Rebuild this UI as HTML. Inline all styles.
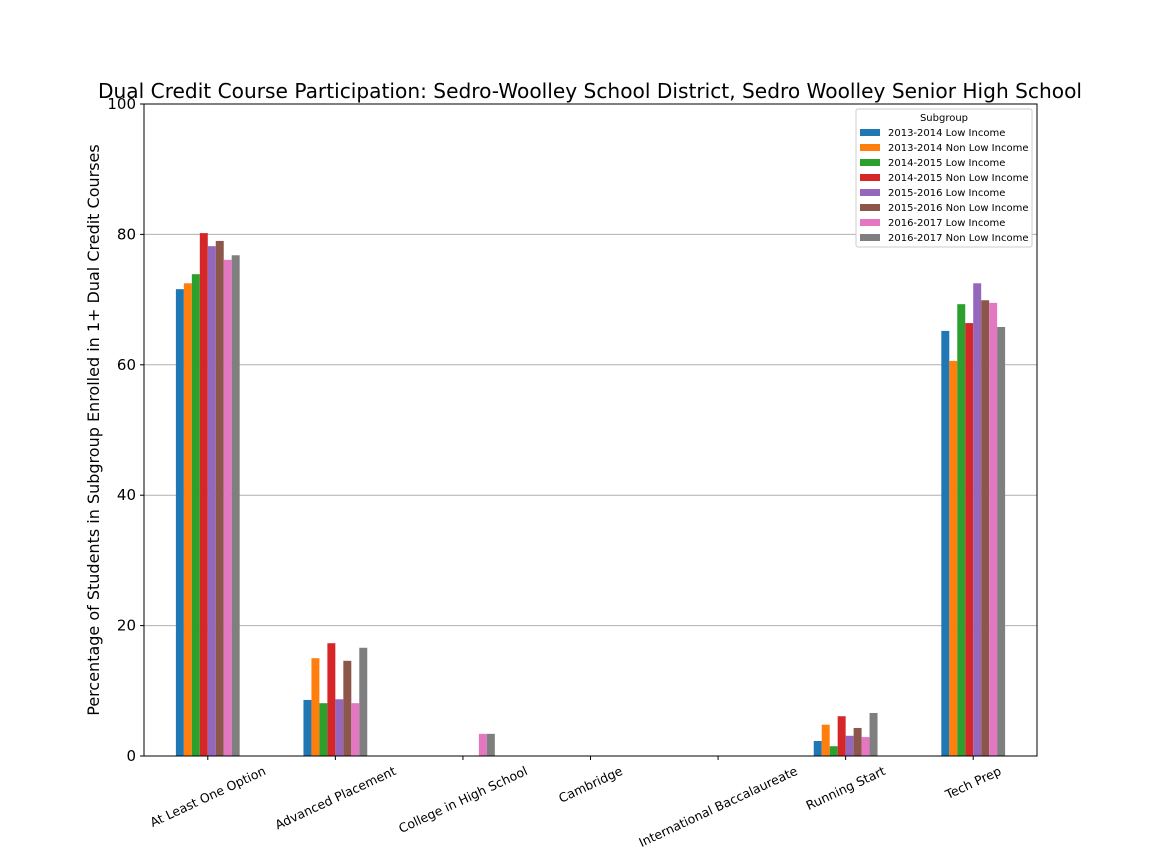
<!DOCTYPE html>
<html><head><meta charset="utf-8"><style>
html,body{margin:0;padding:0;background:#fff;width:1152px;height:864px;overflow:hidden}
svg{font-family:"DejaVu Sans","Liberation Sans",sans-serif}
</style></head><body>
<svg id="chart" width="1152" height="864" xmlns="http://www.w3.org/2000/svg"></svg>
<script>
const categories=["At Least One Option","Advanced Placement","College in High School","Cambridge","International Baccalaureate","Running Start","Tech Prep"];
const seriesNames=["2013-2014 Low Income","2013-2014 Non Low Income","2014-2015 Low Income","2014-2015 Non Low Income","2015-2016 Low Income","2015-2016 Non Low Income","2016-2017 Low Income","2016-2017 Non Low Income"];
const s1314Low=[71.6,8.6,0,0,0,2.3,65.2];
const s1314Non=[72.5,15.0,0,0,0,4.8,60.6];
const s1415Low=[73.9,8.1,0,0,0,1.5,69.3];
const s1415Non=[80.2,17.3,0,0,0,6.1,66.4];
const s1516Low=[78.2,8.7,0,0,0,3.1,72.5];
const s1516Non=[79.0,14.6,0,0,0,4.3,69.9];
const s1617Low=[76.1,8.1,3.4,0,0,2.9,69.5];
const s1617Non=[76.8,16.6,3.4,0,0,6.6,65.8];
const series=[s1314Low,s1314Non,s1415Low,s1415Non,s1516Low,s1516Non,s1617Low,s1617Non];
const yTicks=[0,20,40,60,80,100];
const colors=["#1f77b4","#ff7f0e","#2ca02c","#d62728","#9467bd","#8c564b","#e377c2","#7f7f7f"];

const NS="http://www.w3.org/2000/svg";
const svg=document.getElementById('chart');
const L=144,R=1037,T=104,B=756;
const step=(R-L)/categories.length;
const y=v=>B-(v/100)*(B-T);
const xc=i=>L+step*(i+0.5);
const bw=step*0.5/series.length;
function mk(tag,attrs,parent){const e=document.createElementNS(NS,tag);for(const k in attrs)e.setAttribute(k,attrs[k]);(parent||svg).appendChild(e);return e;}

let t=mk('text',{x:98,y:98,'font-size':20,textLength:984,lengthAdjust:'spacingAndGlyphs'});
t.textContent="Dual Credit Course Participation: Sedro-Woolley School District, Sedro Woolley Senior High School";



yTicks.forEach(v=>{
  if(v>0&&v<100){const g=mk('line',{x1:L,x2:R,y1:y(v),y2:y(v),stroke:'#b0b0b0','stroke-width':1});
  
  }
  mk('line',{x1:L-4,x2:L,y1:y(v),y2:y(v),stroke:'#000'});
  const tx=mk('text',{x:L-8,y:y(v)+5,'text-anchor':'end','font-size':15});
  tx.textContent=v;
  
  
});

series.forEach((s,si)=>{
  s.forEach((v,ci)=>{
    const x0=xc(ci)-step*0.25+si*bw;
    const r=mk('rect',{x:x0,y:y(v),width:bw,height:B-y(v),fill:colors[si]});
    
    
  });
});

const ang=25*Math.PI/180;
categories.forEach((c,i)=>{
  mk('line',{x1:xc(i),x2:xc(i),y1:B,y2:B+4,stroke:'#000'});
  const tx=mk('text',{x:xc(i),y:0,'text-anchor':'middle','font-size':12.5});
  tx.textContent=c;
  
  
  const w=tx.getComputedTextLength(),h=13;
  const cy=B+8+(w*Math.sin(ang)+h*Math.cos(ang))/2;
  tx.setAttribute('y',cy+4.5);
  tx.setAttribute('transform',`rotate(-25 ${xc(i)} ${cy})`);
});

const frame=mk('rect',{x:L,y:T,width:R-L,height:B-T,fill:'none',stroke:'#000','stroke-width':1});



const yl=mk('text',{x:99,y:430,'text-anchor':'middle','font-size':16,transform:'rotate(-90 99 430)'});
yl.textContent="Percentage of Students in Subgroup Enrolled in 1+ Dual Credit Courses";



const lg=mk('g',{});


mk('rect',{x:856,y:109,width:176,height:138,fill:'#fff',stroke:'#ccc',rx:2},lg);
const lt=mk('text',{x:944,y:121,'text-anchor':'middle','font-size':10},lg);
lt.textContent="Subgroup";
seriesNames.forEach((n,i)=>{
  const yy=132+i*15;
  const e=mk('g',{},lg);
  
  
  mk('rect',{x:860,y:yy-3,width:20,height:7,fill:colors[i]},e);
  const tx=mk('text',{x:888,y:yy+4,'font-size':10},e);
  tx.textContent=n;
});
</script>
</body></html>
